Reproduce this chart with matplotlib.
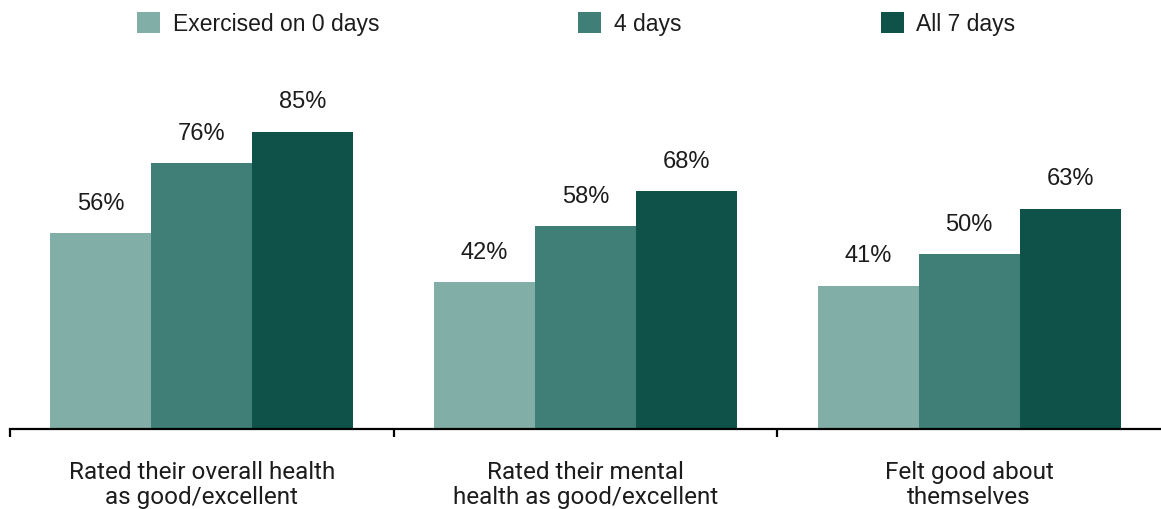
import numpy as np
import matplotlib.pyplot as plt
from matplotlib.ticker import FixedLocator

plt.rcParams['font.family'] = ['Roboto', 'DejaVu Sans']

categories = ["Rated their overall health\nas good/excellent",
              "Rated their mental\nhealth as good/excellent",
              "Felt good about\nthemselves"]
series = ["Exercised on 0 days", "4 days", "All 7 days"]
days_0 = [56, 42, 41]
days_4 = [76, 58, 50]
days_7 = [85, 68, 63]
colors = ["#82aea8", "#3f7f78", "#0f5249"]
text_color = "#1c1c1c"

fig = plt.figure(figsize=(11.61, 5.10), dpi=100)
ax = fig.add_axes([10 / 1161, 80 / 510, 1151 / 1161, 350 / 510])

x = np.arange(len(categories))
w = 0.263
for i, (vals, name, c) in enumerate(zip([days_0, days_4, days_7], series, colors)):
    bars = ax.bar(x + (i - 1) * w, vals, width=w, color=c, label=name)
    for b, v in zip(bars, vals):
        ax.annotate(f"{v}%", (b.get_x() + b.get_width() / 2, v),
                    xytext=(0, 14), textcoords="offset points",
                    ha="center", va="bottom", fontsize=17, color=text_color,
                    family=["Liberation Sans", "DejaVu Sans"])

ax.set_xlim(-0.5, 2.5)
ax.set_ylim(0, 100)
ax.set_yticks([])
for s in ["top", "right", "left"]:
    ax.spines[s].set_visible(False)
ax.spines["bottom"].set_linewidth(1.6)

ax.set_xticks(x)
ax.set_xticklabels(categories, fontsize=17.5, color=text_color, linespacing=1.15)
ax.tick_params(axis="x", which="major", length=0, pad=22)
ax.xaxis.set_minor_locator(FixedLocator([-0.5, 0.5, 1.5]))
ax.tick_params(axis="x", which="minor", length=6, width=1.6, color="black")

leg = fig.legend(loc="upper left", bbox_to_anchor=(137 / 1161, 1 - 13 / 510),
                 ncol=3, frameon=False, handlelength=1.0,
                 handleheight=1.0, handletextpad=0.55, columnspacing=8.7,
                 borderpad=0, borderaxespad=0,
                 prop={"family": ["Liberation Sans", "DejaVu Sans"], "size": 16.5})
for t in leg.get_texts():
    t.set_color(text_color)

fig.savefig("out.png", dpi=100)
